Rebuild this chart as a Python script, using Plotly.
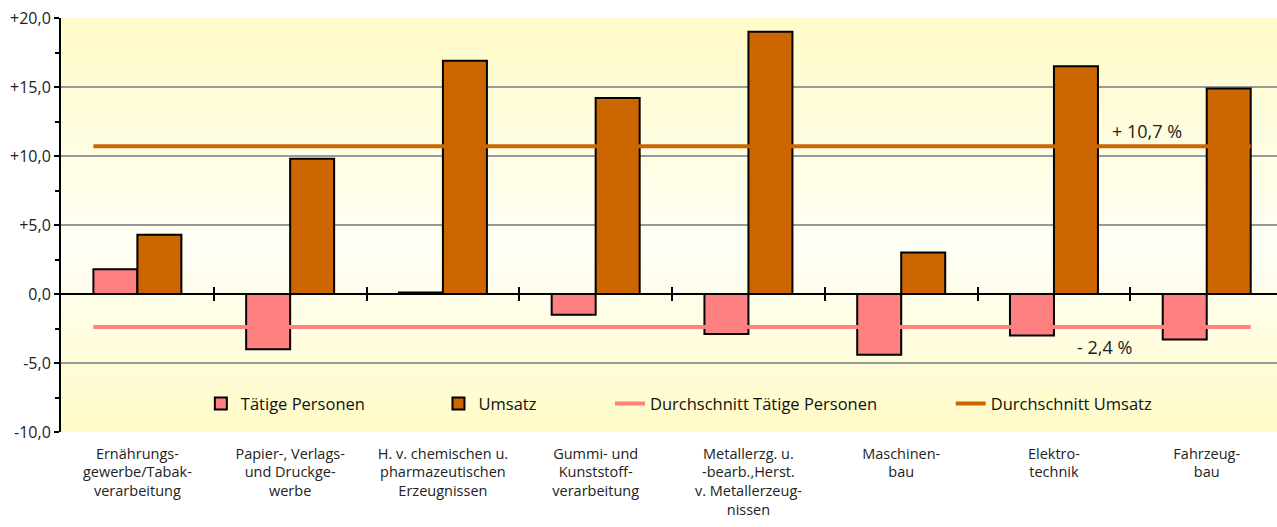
import zlib
import struct
import base64
import plotly.graph_objects as go

#%% data
categories = ['Ernährungs-<br>gewerbe/Tabak-<br>verarbeitung',
              'Papier-, Verlags-<br>und Druckge-<br>werbe',
              'H. v. chemischen u.<br>pharmazeutischen<br>Erzeugnissen',
              'Gummi- und<br>Kunststoff-<br>verarbeitung',
              'Metallerzg. u.<br>-bearb.,Herst.<br>v. Metallerzeug-<br>nissen',
              'Maschinen-<br>bau',
              'Elektro-<br>technik',
              'Fahrzeug-<br>bau']
taetige_personen = [1.8, -4.0, 0.1, -1.5, -2.9, -4.4, -3.0, -3.3]
umsatz = [4.3, 9.8, 16.9, 14.2, 19.0, 3.0, 16.5, 14.9]
avg_personen = -2.4
avg_umsatz = 10.7
y_ticks = [-10, -5, 0, 5, 10, 15, 20]
y_ticktext = ['-10,0', '-5,0', '0,0', '+5,0', '+10,0', '+15,0', '+20,0']

PINK = '#FF8080'
BROWN = '#CC6600'
FONT = 'Open Sans'
PAD = '\u00a0' * 16   # extra room between legend entries

pos = list(range(len(categories)))
x_range = [-0.5, len(categories) - 0.54]
y_range = [-10, 20]
bargap = 0.424
half_group = (1 - bargap) / 2


#%% background gradient as a tiny png
def gradient_png(rows):
    raw = b''.join(b'\x00' + bytes(c) * 2 for c in rows)

    def chunk(tag, data):
        body = struct.pack('>I', len(data)) + tag + data
        return body + struct.pack('>I', zlib.crc32(tag + data) & 0xffffffff)

    png = (b'\x89PNG\r\n\x1a\n'
           + chunk(b'IHDR', struct.pack('>IIBBBBB', 2, len(rows), 8, 2, 0, 0, 0))
           + chunk(b'IDAT', zlib.compress(raw))
           + chunk(b'IEND', b''))
    return 'data:image/png;base64,' + base64.b64encode(png).decode()


edge = (255, 251, 200)
mid = (255, 255, 246)
n = 100
light_at = 55
rows = []
for i in range(n):
    if i <= light_at:
        t = i / light_at
    else:
        t = (n - 1 - i) / (n - 1 - light_at)
    rows.append(tuple(round(edge[k] + (mid[k] - edge[k]) * t) for k in range(3)))

#%% figure
fig = go.Figure()
fig.add_trace(go.Bar(x=pos, y=taetige_personen, name='Tätige Personen' + PAD,
                     marker=dict(color=PINK, line=dict(color='black', width=2))))
fig.add_trace(go.Bar(x=pos, y=umsatz, name='Umsatz' + PAD,
                     marker=dict(color=BROWN, line=dict(color='black', width=2))))
line_x = [pos[0] - half_group, pos[-1] + half_group]
fig.add_trace(go.Scatter(x=line_x, y=[avg_personen] * 2, mode='lines',
                         name='Durchschnitt Tätige Personen' + PAD, xaxis='x2',
                         line=dict(color=PINK, width=4)))
fig.add_trace(go.Scatter(x=line_x, y=[avg_umsatz] * 2, mode='lines',
                         name='Durchschnitt Umsatz', xaxis='x3',
                         line=dict(color=BROWN, width=4)))

zero_pos = (0 - y_range[0]) / (y_range[1] - y_range[0])
boundaries = [p + 0.5 for p in pos[:-1]]
cross_axis = dict(overlaying='x', range=x_range, anchor='free', position=zero_pos,
                  tickvals=boundaries, showticklabels=False, ticklen=6, tickwidth=2,
                  tickcolor='black', showgrid=False, zeroline=False, automargin=False,
                  showline=True, linecolor='black', linewidth=2)

fig.update_layout(
    width=1277, height=527,
    margin=dict(l=61, r=0, t=18, b=95),
    paper_bgcolor='white',
    plot_bgcolor='rgba(0,0,0,0)',
    font=dict(family=FONT, color='#222222'),
    barmode='group', bargap=bargap, bargroupgap=0,
    images=[dict(source=gradient_png(rows), xref='paper', yref='paper',
                 x=0, y=1, sizex=1, sizey=1, sizing='stretch',
                 xanchor='left', yanchor='top', layer='below')],
    xaxis=dict(range=x_range, tickvals=pos, ticktext=categories, ticks='',
               showgrid=False, zeroline=False, showline=False, automargin=False,
               tickfont=dict(size=14.5, color='#222222'), ticklabelstandoff=11),
    xaxis2=dict(cross_axis, ticks='outside'),
    xaxis3=dict(cross_axis, ticks='inside'),
    yaxis=dict(range=y_range, tickvals=y_ticks, ticktext=y_ticktext, automargin=False,
               ticks='outside', ticklen=5, tickwidth=2, tickcolor='black',
               minor=dict(dtick=2.5, ticks='outside', ticklen=4, tickwidth=2,
                          tickcolor='black', showgrid=False),
               showline=True, linecolor='black', linewidth=2,
               showgrid=True, gridcolor='#999999', gridwidth=2,
               zeroline=True, zerolinecolor='black', zerolinewidth=2,
               tickfont=dict(size=16, color='#222222')),
    legend=dict(orientation='h', x=0.115, xanchor='left', y=0.068, yanchor='middle',
                bgcolor='rgba(0,0,0,0)', font=dict(size=16.5, color='#111111')),
    showlegend=True,
    annotations=[
        dict(x=6.61, y=avg_umsatz, xref='x', yref='y', text='+ 10,7 %',
             showarrow=False, yshift=15, font=dict(size=18, color='#222222')),
        dict(x=6.33, y=avg_personen, xref='x', yref='y', text='- 2,4 %',
             showarrow=False, yshift=-20, font=dict(size=18, color='#222222')),
    ],
)

# page body margin off, so the chart sits at the window corner
fig.write_html('out.html', config={'displayModeBar': False},
               post_script="document.body.style.margin='0';")
